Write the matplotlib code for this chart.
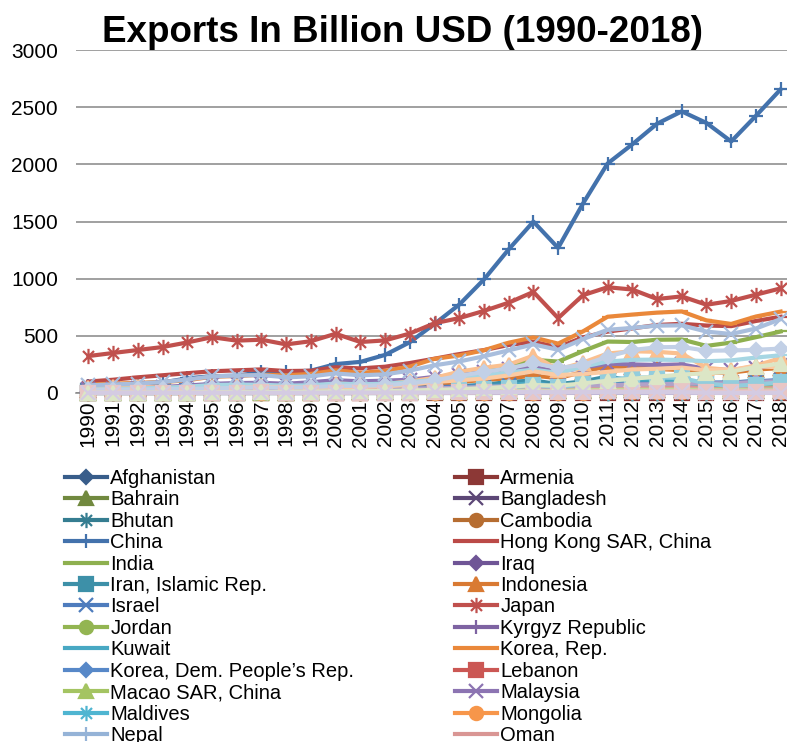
import numpy as np
import matplotlib
matplotlib.use("Agg")
import matplotlib.pyplot as plt
from matplotlib.path import Path

plt.rcParams["font.family"] = ["Liberation Sans", "DejaVu Sans"]

# -----------------------------
# DATA (exports, billion USD)
# -----------------------------
years = list(range(1990, 2019))
nan = np.nan

countries = [
    "Afghanistan", "Armenia", "Bahrain", "Bangladesh", "Bhutan", "Cambodia",
    "China", "Hong Kong SAR, China", "India", "Iraq", "Iran, Islamic Rep.", "Indonesia",
    "Israel", "Japan", "Jordan", "Kyrgyz Republic", "Kuwait", "Korea, Rep.",
    "Korea, Dem. People\u2019s Rep.", "Lebanon", "Macao SAR, China", "Malaysia", "Maldives", "Mongolia",
    "Nepal", "Oman", "Pakistan", "Philippines", "Qatar", "Saudi Arabia",
    "Singapore", "Sri Lanka", "Syrian Arab Republic", "Tajikistan", "Thailand", "Turkey",
    "United Arab Emirates", "Uzbekistan", "Vietnam", "Yemen, Rep.",
]

afghanistan = [0.4, 0.4, 0.3, 0.3, 0.3, 0.3, 0.3, 0.3, 0.3, 0.3, 0.3, 0.3, 1.5, 1.9, 1.9, 2.2, 2.3, 2.4, 2.5, 2.6, 2.5, 2.6, 2.7, 2.5, 2.0, 1.7, 1.6, 1.9, 2.2]
armenia = [0.5, 0.4, 0.3, 0.3, 0.3, 0.3, 0.3, 0.3, 0.4, 0.4, 0.4, 0.5, 0.6, 0.8, 0.9, 1.2, 1.3, 1.6, 1.6, 1.3, 1.8, 2.2, 2.4, 2.5, 2.6, 2.4, 2.6, 3.2, 3.4]
bahrain = [4.3, 4.2, 4.1, 4.2, 4.2, 4.6, 5.2, 5.1, 4.2, 5.0, 6.9, 6.4, 6.7, 7.8, 9.7, 12.7, 15.0, 17.6, 21.2, 15.7, 19.2, 24.3, 24.9, 25.3, 24.5, 18.7, 17.1, 19.2, 21.6]
bangladesh = [1.7, 1.9, 2.1, 2.5, 2.7, 3.6, 4.1, 4.7, 5.3, 5.5, 6.0, 6.4, 6.3, 7.2, 8.2, 9.3, 11.5, 13.2, 15.4, 16.2, 19.2, 25.3, 26.9, 29.7, 31.2, 33.4, 35.5, 36.7, 39.2]
bhutan = [0.1, 0.1, 0.1, 0.1, 0.1, 0.1, 0.1, 0.1, 0.1, 0.1, 0.1, 0.1, 0.1, 0.2, 0.2, 0.3, 0.4, 0.6, 0.6, 0.5, 0.6, 0.7, 0.6, 0.6, 0.6, 0.6, 0.6, 0.6, 0.6]
cambodia = [0.3, 0.3, 0.3, 0.4, 0.6, 0.9, 0.9, 1.1, 1.1, 1.5, 1.9, 2.1, 2.4, 2.7, 3.4, 3.9, 4.7, 5.3, 5.9, 5.6, 6.8, 8.1, 8.8, 9.5, 10.3, 11.1, 12.1, 13.3, 15.1]
china = [62, 72, 85, 92, 128, 147, 151, 183, 184, 195, 253, 272, 333, 444, 604, 773, 993, 1256, 1499, 1269, 1655, 2007, 2175, 2355, 2463, 2362, 2200, 2424, 2656]
hong_kong = [100, 116, 137, 155, 173, 190, 198, 206, 192, 195, 225, 215, 230, 262, 300, 340, 375, 420, 448, 400, 486, 537, 565, 595, 605, 590, 585, 630, 667]
india = [23, 23, 25, 28, 32, 38, 40, 43, 44, 48, 60, 61, 70, 84, 118, 154, 188, 239, 290, 275, 366, 450, 446, 466, 468, 412, 441, 488, 538]
iraq = [11, 1, 1, 1, 1, 1, 1, 5, 8, 12, 20, 16, 13, 10, 17, 24, 31, 39, 63, 41, 52, 83, 94, 90, 85, 50, 44, 64, 95]
iran = [21, 20, 21, 21, 21, 22, 25, 23, 16, 23, 31, 29, 29, 35, 43, 60, 72, 97, 109, 78, 101, 144, 108, 93, 92, 75, 90, 105, 100]
indonesia = [29, 33, 37, 40, 44, 51, 56, 62, 54, 51, 66, 60, 61, 67, 77, 97, 114, 129, 152, 130, 183, 235, 226, 210, 200, 180, 178, 205, 218]
israel = [17, 17, 19, 20, 23, 27, 29, 31, 32, 35, 45, 40, 39, 44, 52, 56, 60, 67, 78, 64, 77, 88, 87, 93, 95, 91, 93, 102, 114]
japan = [323, 350, 376, 402, 442, 488, 458, 466, 425, 453, 518, 446, 460, 520, 610, 655, 718, 790, 884, 655, 855, 925, 905, 822, 845, 772, 805, 860, 915]
jordan = [2.5, 2.5, 2.9, 3.1, 3.3, 3.6, 3.8, 3.8, 3.7, 3.7, 3.7, 4.2, 4.7, 5.1, 6.1, 6.6, 7.9, 9.5, 12.6, 11.2, 12.5, 13.4, 13.4, 13.7, 14.3, 13.5, 13.2, 13.6, 14.9]
kyrgyz = [0.5, 0.5, 0.4, 0.4, 0.4, 0.5, 0.6, 0.7, 0.6, 0.5, 0.6, 0.6, 0.6, 0.7, 0.9, 0.9, 1.3, 2.0, 2.8, 2.4, 2.3, 2.9, 2.5, 2.8, 2.8, 2.3, 2.2, 2.5, 2.5]
kuwait = [8.3, 1.1, 6.9, 10.5, 11.3, 13.3, 15.4, 15.4, 10.8, 13.3, 21.0, 17.8, 16.8, 22.5, 29.9, 47.0, 60.2, 66.9, 89.1, 54.5, 66.9, 103.9, 119.2, 115.0, 104.1, 55.2, 46.6, 55.3, 71.9]
korea_rep = [73, 82, 88, 96, 111, 143, 148, 160, 155, 167, 198, 176, 193, 231, 299, 328, 374, 440, 486, 432, 538, 667, 686, 703, 713, 635, 604, 669, 712]
korea_dem = [nan] * 29
lebanon = [0.9, 1.1, 1.3, 1.5, 1.8, 2.0, 2.3, 2.7, 2.8, 2.6, 3.6, 4.3, 5.5, 6.4, 8.6, 9.6, 10.2, 13.0, 16.1, 17.9, 18.8, 19.8, 21.8, 22.9, 21.7, 20.1, 20.4, 20.0, 19.6]
macao = [2.6, 2.9, 3.0, 3.2, 3.5, 3.8, 4.0, 4.3, 4.1, 4.0, 4.8, 5.0, 5.6, 7.4, 9.8, 10.7, 13.0, 18.1, 20.2, 20.7, 30.4, 40.5, 46.6, 54.7, 52.4, 35.6, 35.1, 43.2, 49.8]
malaysia = [32, 37, 45, 52, 65, 80, 87, 89, 81, 94, 112, 102, 108, 116, 141, 161, 182, 209, 230, 184, 221, 257, 250, 245, 250, 210, 200, 218, 247]
maldives = [0.2, 0.2, 0.2, 0.3, 0.3, 0.4, 0.4, 0.4, 0.4, 0.4, 0.5, 0.5, 0.5, 0.6, 0.7, 0.5, 0.8, 0.9, 1.0, 1.0, 2.2, 2.5, 2.6, 2.9, 3.2, 3.3, 3.1, 3.5, 3.8]
mongolia = [0.7, 0.4, 0.4, 0.4, 0.4, 0.5, 0.5, 0.5, 0.5, 0.5, 0.6, 0.6, 0.6, 0.7, 1.0, 1.3, 1.7, 2.2, 2.7, 2.1, 3.3, 5.5, 5.2, 5.1, 6.5, 5.4, 5.8, 7.0, 8.0]
nepal = [0.3, 0.3, 0.4, 0.6, 0.8, 0.7, 0.8, 1.1, 0.9, 1.0, 1.2, 1.1, 0.9, 0.9, 1.0, 1.1, 1.1, 1.2, 1.3, 1.2, 1.3, 1.4, 1.5, 1.5, 1.7, 1.6, 1.5, 1.6, 1.8]
oman = [5.7, 4.9, 5.6, 5.4, 5.5, 6.1, 7.4, 7.7, 5.7, 7.3, 11.3, 11.1, 11.5, 11.9, 13.6, 19.4, 22.7, 25.4, 39.0, 26.4, 33.4, 46.4, 52.1, 56.4, 53.2, 35.7, 30.0, 35.7, 45.0]
pakistan = [6.2, 7.1, 8.1, 7.5, 7.9, 9.5, 9.8, 9.7, 9.4, 8.7, 9.6, 10.5, 11.1, 13.0, 15.1, 17.3, 18.4, 20.6, 22.6, 20.5, 24.8, 28.6, 28.3, 29.0, 29.4, 28.0, 26.0, 27.5, 29.2]
philippines = [8.2, 9.0, 10.4, 11.8, 14.4, 18.4, 23.1, 29.3, 32.0, 38.4, 39.8, 33.6, 37.1, 37.7, 42.6, 45.2, 52.7, 59.9, 59.2, 52.3, 69.5, 66.7, 74.8, 76.5, 82.7, 83.5, 85.6, 97.5, 103.6]
qatar = [4.0, 3.4, 3.8, 3.3, 3.3, 3.6, 4.1, 4.8, 5.4, 7.3, 11.6, 11.0, 11.0, 13.6, 19.5, 26.7, 36.4, 44.0, 71.7, 51.5, 77.8, 118.0, 135.0, 137.0, 131.0, 83.5, 61.5, 73.4, 93.4]
saudi = [47, 50, 53, 46, 47, 53, 63, 64, 43, 55, 83, 74, 78, 102, 132, 187, 221, 248, 327, 205, 266, 345, 365, 360, 345, 220, 200, 240, 305]
singapore = [67, 75, 82, 96, 118, 145, 153, 157, 137, 146, 171, 155, 163, 196, 242, 276, 321, 373, 425, 378, 471, 553, 569, 589, 592, 537, 516, 564, 646]
sri_lanka = [2.3, 2.6, 3.1, 3.4, 4.0, 4.8, 5.1, 5.6, 5.9, 5.4, 6.3, 6.0, 6.0, 6.6, 7.5, 8.2, 8.9, 10.0, 10.9, 9.8, 11.3, 14.1, 13.6, 14.9, 16.7, 16.5, 17.1, 17.8, 19.3]
syria = [5.0, 5.5, 5.5, 5.1, 5.4, 5.8, 6.4, 6.3, 5.5, 5.9, 7.2, 8.1, 9.7, 8.5, 11.3, 13.4, 14.9, 15.9, 19.6, 15.8, 19.4, nan, nan, nan, nan, nan, nan, nan, nan]
tajikistan = [0.7, 0.8, 0.4, 0.4, 0.5, 0.8, 0.8, 0.8, 0.6, 0.7, 0.8, 0.7, 0.8, 0.9, 1.1, 1.1, 1.5, 1.6, 1.7, 1.3, 1.7, 1.6, 1.5, 1.2, 1.4, 1.0, 1.1, 1.3, 1.3]
thailand = [29, 35, 40, 45, 55, 70, 73, 72, 64, 68, 82, 76, 81, 95, 115, 130, 155, 180, 205, 175, 230, 275, 290, 292, 288, 278, 285, 310, 330]
turkey = [20, 21, 23, 24, 27, 35, 44, 52, 53, 45, 50, 53, 58, 73, 96, 111, 126, 154, 190, 157, 166, 185, 206, 212, 222, 200, 201, 233, 225]
uae = [27, 29, 31, 33, 36, 40, 45, 50, 46, 51, 62, 63, 68, 84, 110, 150, 185, 215, 262, 219, 245, 318, 376, 400, 403, 370, 372, 378, 388]
uzbekistan = [3.5, 3.8, 3.0, 3.2, 3.0, 3.6, 4.2, 4.4, 3.5, 3.2, 3.3, 3.2, 3.0, 3.7, 4.8, 5.4, 6.4, 8.9, 11.6, 11.8, 13.0, 15.0, 13.6, 14.5, 14.1, 12.9, 12.1, 12.5, 14.3]
vietnam = [2.4, 2.1, 2.6, 3.0, 4.1, 5.4, 7.3, 9.2, 9.4, 11.5, 15.0, 16.0, 17.1, 21.0, 27.7, 34.3, 42.3, 54.6, 69.7, 64.1, 83.5, 106.8, 124.7, 143.2, 160.8, 173.3, 186.7, 227.3, 258.0]
yemen = [1.4, 1.3, 1.0, 1.2, 1.8, 2.0, 2.5, 2.7, 1.7, 2.6, 4.1, 3.6, 3.7, 4.1, 4.9, 6.7, 7.7, 7.5, 9.6, 6.9, 8.4, 8.9, 8.1, 8.4, 7.5, 2.5, 1.2, 1.5, 2.0]

series = [
    afghanistan, armenia, bahrain, bangladesh, bhutan, cambodia,
    china, hong_kong, india, iraq, iran, indonesia,
    israel, japan, jordan, kyrgyz, kuwait, korea_rep,
    korea_dem, lebanon, macao, malaysia, maldives, mongolia,
    nepal, oman, pakistan, philippines, qatar, saudi,
    singapore, sri_lanka, syria, tajikistan, thailand, turkey,
    uae, uzbekistan, vietnam, yemen,
]

# legend entries that fit on the page (rest run past the bottom edge)
LEGEND_ROWS = 13

# -----------------------------
# STYLE: office palette, shades per block of six
# -----------------------------
palette = [
    ["#385D8A", "#8C3836", "#71893F", "#5C4776", "#357D91", "#B66D31"],
    ["#4372AC", "#BB4A47", "#8EB04F", "#6F5596", "#3D90A8", "#D97A33"],
    ["#4E7CBD", "#C0504D", "#93B552", "#7E63A2", "#48A8C3", "#EA883A"],
    ["#5788C8", "#CB5754", "#A4C462", "#8C74B2", "#4FB5D1", "#F7964A"],
    ["#95B3D7", "#D99694", "#C3D69B", "#B3A2C7", "#93CDDD", "#FAC090"],
    ["#A9BEDD", "#E3B0AF", "#CFDDB0", "#C3B7D6", "#A6D6E3", "#FBCBA3"],
    ["#C2D0E6", "#E8C6C5", "#DCE6C6", "#D4CBE2", "#C0E2EB", "#FCDDC4"],
]

ast = Path([(0, -1), (0, 1), (-0.72, -0.72), (0.72, 0.72), (-0.72, 0.72), (0.72, -0.72)],
           [Path.MOVETO, Path.LINETO, Path.MOVETO, Path.LINETO, Path.MOVETO, Path.LINETO])
markers = ["D", "s", "^", "x", ast, "o", "+", "_", "_"]
msizes = [7.5, 10, 10.5, 9.5, 11, 9.5, 10.5, 8, 8]

# -----------------------------
# FIGURE
# -----------------------------
fig = plt.figure(figsize=(7.87, 7.42), dpi=100)
ax = fig.add_axes([76 / 787, 1 - 393 / 742, 717 / 787, 343 / 742])

x = np.arange(len(years))
lines = []
for i, (name, vals) in enumerate(zip(countries, series)):
    c = palette[i // 6][i % 6]
    m = markers[i % 9]
    ln, = ax.plot(x, vals, color=c, lw=3.0, marker=m, ms=msizes[i % 9],
                  mfc=c, mec=c, mew=1.6, label=name, zorder=3 + i * 0.01,
                  clip_on=False, solid_joinstyle="round")
    lines.append(ln)

ax.set_xlim(-0.5, len(years) - 0.5)
ax.set_ylim(0, 3000)
ax.set_yticks(range(0, 3001, 500))
ax.set_xticks(x)
ax.set_xticklabels([str(y) for y in years], rotation=90, fontsize=15)
ax.tick_params(axis="y", length=0, pad=13, labelsize=15)
ax.tick_params(axis="x", length=0, pad=5)
ax.grid(axis="y", color="#868686", lw=1.1)
ax.set_axisbelow(True)
for s in ["top", "right", "left"]:
    ax.spines[s].set_visible(False)
ax.spines["bottom"].set_color("#868686")
ax.spines["bottom"].set_linewidth(1.1)

fig.text(0.511, 1 - 42 / 742, "Exports In Billion USD (1990-2018)",
         ha="center", va="baseline", fontsize=26.5, fontweight="bold")

# legend filled row by row across two columns
left = lines[0::2][:LEGEND_ROWS]
right = lines[1::2][:LEGEND_ROWS]
kw = dict(loc="upper left", frameon=False, fontsize=14.5, handlelength=2.1,
          handletextpad=0.15, labelspacing=0.12, borderpad=0,
          borderaxespad=0, numpoints=1)
fig.legend(handles=left, bbox_to_anchor=(65 / 787, 1 - 469 / 742), **kw)
fig.legend(handles=right, bbox_to_anchor=(455 / 787, 1 - 469 / 742), **kw)

fig.savefig("out.png", dpi=100)
